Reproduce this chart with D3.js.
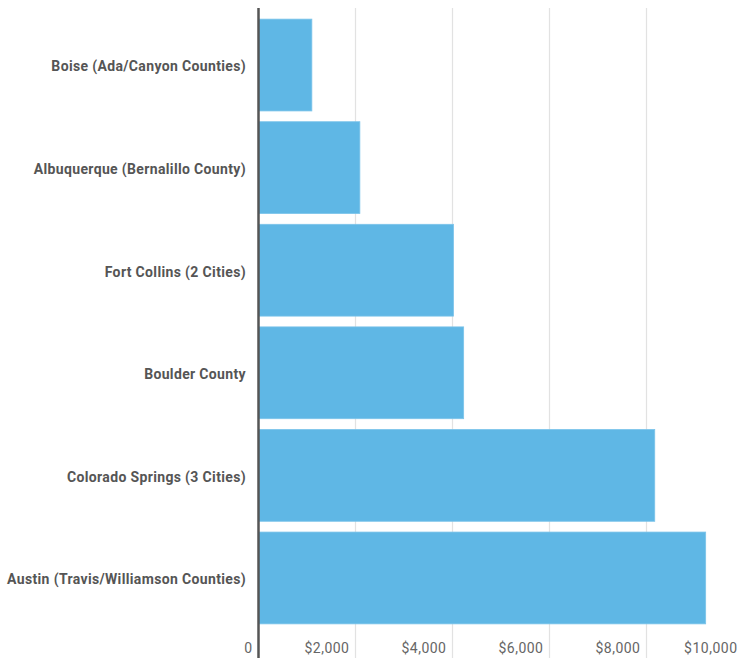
<!DOCTYPE html>
<html>
<head>
<meta charset="utf-8">
<script src="https://cdn.jsdelivr.net/npm/d3@7"></script>
<style>
  html, body { margin: 0; padding: 0; background: #fff; }
  svg { display: block; font-family: Roboto, "Noto Sans", sans-serif; }
</style>
</head>
<body>
<svg id="chart" width="738" height="658"></svg>
<script>
// Regions and their values (USD)
const regions = [
  "Boise (Ada/Canyon Counties)",
  "Albuquerque (Bernalillo County)",
  "Fort Collins (2 Cities)",
  "Boulder County",
  "Colorado Springs (3 Cities)",
  "Austin (Travis/Williamson Counties)"
];
const amounts = [1100, 2090, 4020, 4230, 8170, 9220];
const tickValues = [0, 2000, 4000, 6000, 8000, 10000];

const svg = d3.select("#chart");
const W = 738, H = 658;
const left = 258.5;

const x = d3.scaleLinear().domain([0, 10000]).range([left, left + 485]);
const y = d3.scaleBand().domain(regions).range([14, 629]).paddingInner(0.105).paddingOuter(0.05);

// vertical grid lines
svg.append("g").selectAll("line")
  .data(tickValues.slice(1))
  .join("line")
  .attr("x1", d => x(d)).attr("x2", d => x(d))
  .attr("y1", 8).attr("y2", H)
  .attr("stroke", "#e2e2e2").attr("stroke-width", 1.2);

// bars
svg.append("g").selectAll("rect")
  .data(regions.map((r, i) => ({ r, v: amounts[i] })))
  .join("rect")
  .attr("x", x(0))
  .attr("y", d => y(d.r))
  .attr("width", d => x(d.v) - x(0))
  .attr("height", y.bandwidth())
  .attr("fill", "#5fb7e5")
  .attr("stroke", "#7cc4ea").attr("stroke-width", 0.8);

// category labels
svg.append("g").selectAll("text")
  .data(regions)
  .join("text")
  .attr("x", 246)
  .attr("y", d => y(d) + y.bandwidth() / 2 + 1.5)
  .attr("dy", "0.35em")
  .attr("text-anchor", "end")
  .attr("font-size", 14)
  .attr("letter-spacing", 0.35)
  .attr("font-weight", "bold")
  .attr("fill", "#555")
  .text(d => d);

// value axis labels
const fmt = d => d === 0 ? "0" : "$" + d3.format(",")(d);
svg.append("g").selectAll("text")
  .data(tickValues)
  .join("text")
  .attr("x", d => x(d) - 6)
  .attr("y", 653)
  .attr("text-anchor", "end")
  .attr("font-size", 14)
  .attr("letter-spacing", 0.5)
  .attr("fill", "#666")
  .text(fmt);

// baseline
svg.append("line")
  .attr("x1", x(0)).attr("x2", x(0))
  .attr("y1", 8).attr("y2", H)
  .attr("stroke", "#555").attr("stroke-width", 2.5);
</script>
</body>
</html>
